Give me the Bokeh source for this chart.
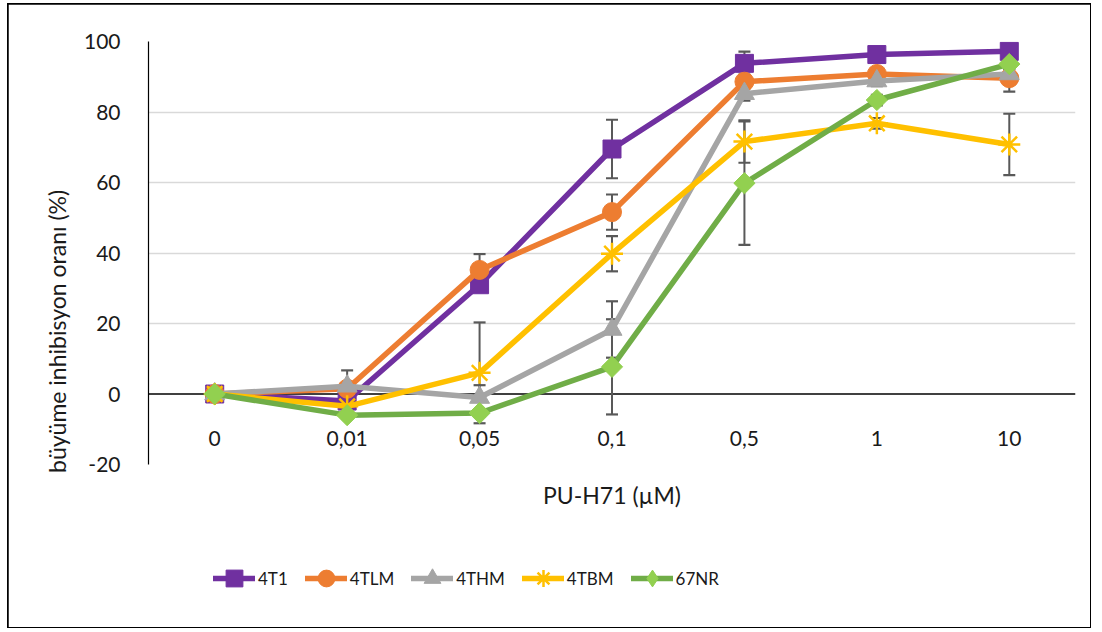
import numpy as np
from bokeh.plotting import figure
from bokeh.models import (Range1d, Span, Legend, LegendItem, Label, Title, FixedTicker)
from bokeh.core.properties import value
from bokeh.embed import file_html
from bokeh.resources import INLINE

# PU-H71 concentrations (µM), shown as category labels
concentrations = ["0", "0,01", "0,05", "0,1", "0,5", "1", "10"]

# growth inhibition (%) per cell line
inh_4t1 = [0, -2, 31, 69.5, 93.8, 96.3, 97.2]
inh_4tlm = [0, 1.5, 35.2, 51.6, 88.6, 90.8, 89.6]
inh_4thm = [0, 2.2, -1, 18.3, 85.2, 88.8, 90.8]
inh_4tbm = [0, -3.5, 6, 39.8, 71.6, 76.8, 70.8]
inh_67nr = [0, -6, -5.4, 7.7, 59.8, 83.4, 93.6]

# error bar half-widths (%)
err_4t1 = [0, 1, 2, 8.3, 3.3, 1.5, 1]
err_4tlm = [0, 1, 4.5, 5, 2, 1.5, 3.8]
err_4thm = [0, 4.5, 3.5, 8, 2, 1.5, 1.5]
err_4tbm = [0, 1.5, 14.3, 5, 6, 1.5, 8.7]
err_67nr = [0, 1, 1, 13.5, 17.5, 1.5, 1.5]

names = ["4T1", "4TLM", "4THM", "4TBM", "67NR"]
values = [inh_4t1, inh_4tlm, inh_4thm, inh_4tbm, inh_67nr]
errors = [err_4t1, err_4tlm, err_4thm, err_4tbm, err_67nr]

styles = {
    "4T1": dict(line="#7030A0", marker="square", size=18, fill="#7030A0", angle=0.0),
    "4TLM": dict(line="#ED7D31", marker="circle", size=19, fill="#ED7D31", angle=0.0),
    "4THM": dict(line="#A5A5A5", marker="triangle", size=20, fill="#A5A5A5", angle=0.0),
    "4TBM": dict(line="#FFC000", marker="asterisk", size=22, fill="#FFC000", angle=0.0),
    "67NR": dict(line="#70AD47", marker="square", size=15, fill="#92D050", angle=np.pi / 4),
}

FONT = "Lato"
TEXT = "#1a1a1a"
W, H = 1082, 623                      # drawing area inside the outer frame
FL, FR, FT = 140, 1067, 37            # frame edges; y=100 sits on the frame top
AXIS_BOTTOM = 460                     # pixel row of y=-20
FB = 611                              # frame extends below the axis to hold the legend

Y_MIN, Y_MAX = -20, 100
px_per_unit = (AXIS_BOTTOM - FT) / (Y_MAX - Y_MIN)
y_lo = Y_MAX - (FB - FT) / px_per_unit

x = np.arange(len(concentrations))


def row_to_y(row):
    """Pixel row inside the drawing area -> y value (for placing annotations)."""
    return Y_MAX - (row - FT) / px_per_unit


p = figure(width=W, height=H, output_backend="svg", toolbar_location=None,
           x_range=Range1d(-0.5, len(concentrations) - 0.5), y_range=Range1d(y_lo, Y_MAX),
           x_axis_location=None,
           min_border_left=FL, min_border_right=W - FR,
           min_border_top=FT, min_border_bottom=H - FB)
p.margin = (4, 12, 5, 8)
p.styles = {"outline": "2.5px solid black", "outline-offset": "-1px"}
p.outline_line_color = None
p.background_fill_color = "white"
p.border_fill_color = "white"

# y axis
yax = p.yaxis[0]
yax.bounds = (Y_MIN, Y_MAX)
yax.ticker = FixedTicker(ticks=[-20, 0, 20, 40, 60, 80, 100])
yax.major_label_overrides = {-20: "-20"}
yax.axis_line_color = "black"
yax.axis_line_width = 1.2
yax.major_tick_line_color = None
yax.minor_tick_line_color = None
yax.major_label_standoff = 22
yax.major_label_text_font = FONT
yax.major_label_text_font_size = "21px"
yax.major_label_text_color = TEXT

p.add_layout(Title(text="büyüme inhibisyon oranı  (%)", align="center", offset=119,
                   standoff=19, text_font=FONT, text_font_size="23px",
                   text_font_style="normal", text_color=TEXT), "left")

p.xgrid.visible = False
p.ygrid.ticker = FixedTicker(ticks=[20, 40, 60, 80, 100])
p.ygrid.grid_line_color = "#D9D9D9"
p.ygrid.grid_line_width = 1.3

zero_line = Span(location=0, dimension="width", line_color="black", line_width=1.3,
                 level="underlay")
p.add_layout(zero_line)

# category labels just below the zero line
p.text(x=x, y=[-12.6] * len(x), text=concentrations, text_align="center",
       text_baseline="middle", text_font=value(FONT), text_font_size="21px",
       text_color=TEXT)

# x axis title
p.add_layout(Label(x=(len(concentrations) - 1) / 2, y=row_to_y(490), text="PU-H71 (µM)",
                   text_align="center", text_baseline="middle", text_font=FONT,
                   text_font_size="23px", text_color=TEXT))

# error bars
for vals, errs in zip(values, errors):
    ex = [xi for xi, e in zip(x, errs) if e > 0]
    lo = [v - e for v, e in zip(vals, errs) if e > 0]
    hi = [v + e for v, e in zip(vals, errs) if e > 0]
    p.segment(x0=ex, y0=lo, x1=ex, y1=hi, line_color="#595959", line_width=2)
    p.scatter(x=ex + ex, y=lo + hi, marker="dash", size=12, line_color="#595959",
              line_width=2.2)

# series lines and markers
items = []
for name, vals in zip(names, values):
    st = styles[name]
    lr = p.line(x, vals, line_color=st["line"], line_width=5.5, line_cap="round")
    if st["marker"] == "asterisk":
        sr = p.scatter(x, vals, marker="asterisk", size=st["size"], line_color=st["fill"],
                       line_width=2.5)
        key = sr
    else:
        sr = p.scatter(x, vals, marker=st["marker"], size=st["size"], angle=st["angle"],
                       fill_color=st["fill"], line_color=st["fill"], line_width=1)
        key = sr
        if st["angle"]:
            # the legend key does not rotate markers, so it gets an upright diamond
            key = p.scatter(x, vals, marker="diamond", size=st["size"],
                            fill_color=st["fill"], line_color=st["fill"], visible=False)
    items.append(LegendItem(label=name, renderers=[lr, key]))

legend = Legend(items=items, orientation="horizontal", location=(65, 15),
                glyph_width=42, glyph_height=44, label_standoff=3, spacing=17,
                padding=0, margin=0, border_line_color=None, background_fill_alpha=0,
                label_text_font=FONT, label_text_font_size="17px",
                label_text_color=TEXT)
p.add_layout(legend)

open("out.html", "w").write(file_html(p, INLINE))
